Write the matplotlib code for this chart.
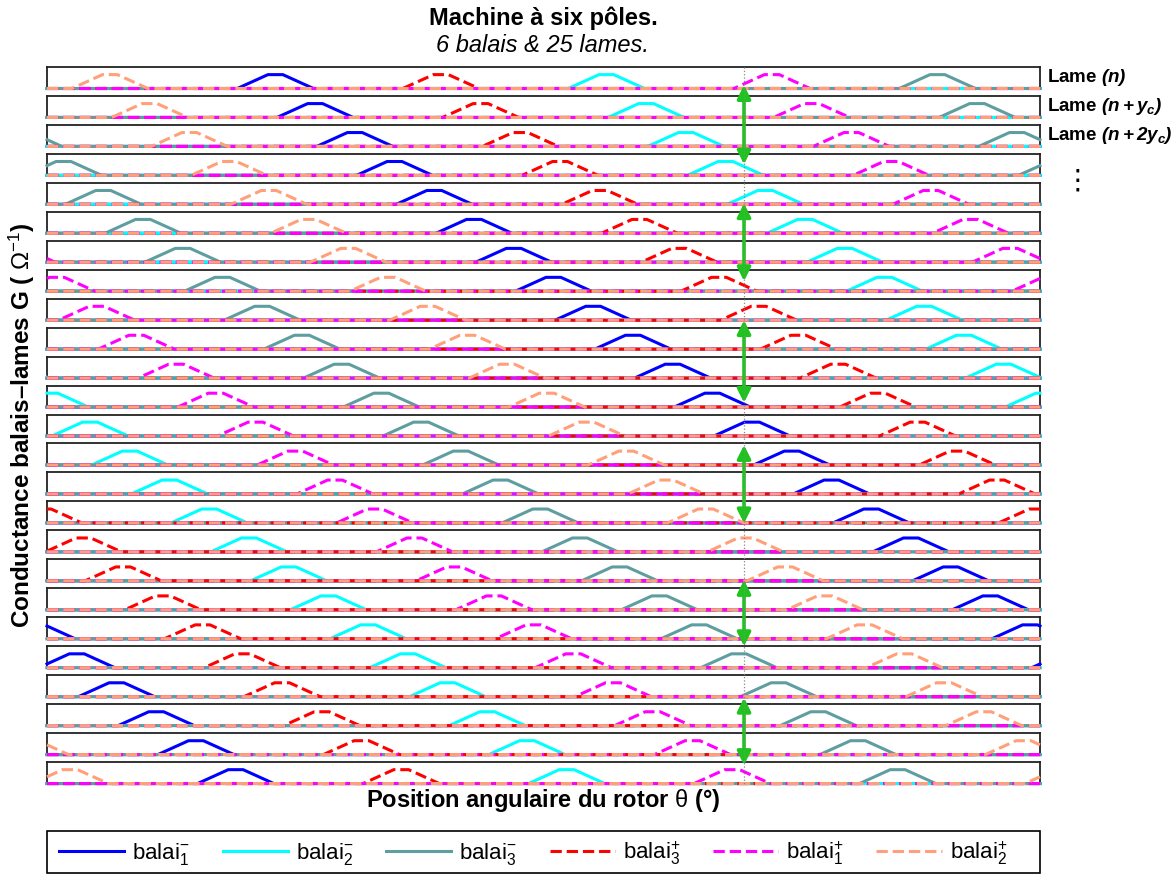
import numpy as np
import matplotlib
matplotlib.use('Agg')
import matplotlib.pyplot as plt
from matplotlib.patches import FancyArrowPatch, Rectangle
from matplotlib.lines import Line2D

plt.rcParams['font.family'] = ['Liberation Sans', 'DejaVu Sans']
plt.rcParams['mathtext.fontset'] = 'custom'
plt.rcParams['mathtext.rm'] = 'Liberation Sans'
plt.rcParams['mathtext.it'] = 'Liberation Sans:italic'
plt.rcParams['mathtext.bf'] = 'Liberation Sans:bold:italic'

# brushes, in legend order
brush_labels = [r'balai$_1^{-}$', r'balai$_2^{-}$', r'balai$_3^{-}$',
                r'balai$_3^{+}$', r'balai$_1^{+}$', r'balai$_2^{+}$']
brush_colors = ['#0000ff', '#00ffff', '#5f9ea0', '#ff0000', '#ff00ff', '#ffa07a']
brush_styles = ['-', '-', '-', '--', '--', '--']
# brush centre (deg) seen by the first lame
brush_center0 = [82.8, 202.8, 322.8, 142.8, 262.8, 22.8]

n_lames = 25
lame_step = 360.0 / n_lames          # shift from one row to the next
# trapezoidal conductance: offsets from centre (deg) and G value
trap_dx = [-13.8, -2.7, 2.7, 13.8]
trap_g = [0.0, 1.0, 1.0, 0.0]

theta_mark = 252.7
# green arrows: (row from, y frac, row to, y frac)
arrows = [(0, 0.16, 3, 0.51), (4, 0.05, 7, 0.47), (8, 0.0, 11, 0.2),
          (13, 0.93, 15, -0.02), (17, 0.04, 20, 1.0), (21, -0.05, 24, 0.86)]

row_labels = [r'Lame $\mathbf{(n)}$', r'Lame $\mathbf{(n+y_c)}$', r'Lame $\mathbf{(n+2y_c)}$']

W, H = 1172, 875
fig = plt.figure(figsize=(W / 100, H / 100), dpi=100)

left, right = 47, 1040
top0, pitch, hgt = 67, 28.96, 21.5
theta = np.linspace(0, 360, 3601)

axes = []
for k in range(n_lames):
    y_top = top0 + k * pitch
    ax = fig.add_axes([left / W, 1 - (y_top + hgt) / H, (right - left) / W, hgt / H])
    for lab, col, ls, c0 in zip(brush_labels, brush_colors, brush_styles, brush_center0):
        c = c0 + k * lame_step
        g = np.interp(theta, [c + d for d in trap_dx], trap_g, period=360)
        ax.plot(theta, g, color=col, ls=ls, lw=2.2, label=lab, clip_on=False, zorder=3)
    ax.set_xlim(0, 360)
    ax.set_ylim(0, 1.55)
    ax.set_xticks([])
    ax.set_yticks([])
    for s in ax.spines.values():
        s.set_linewidth(1.3)
        s.set_color('#222222')
        s.set_zorder(1)
    axes.append(ax)

for k, t in enumerate(row_labels):
    axes[k].text(1.007, 0.5, t, transform=axes[k].transAxes, fontsize=13.5,
                 fontweight='bold', va='center', ha='left')
axes[3].text(1.038, -0.25, '\u22ee', transform=axes[3].transAxes, fontsize=20,
             va='center', ha='center', family=['DejaVu Sans'])

# dotted line at theta
to_fig = fig.transFigure.inverted()
pa = to_fig.transform(axes[0].get_xaxis_transform().transform((theta_mark, 1.0)))
pb = to_fig.transform(axes[-1].get_xaxis_transform().transform((theta_mark, 0.0)))
fig.add_artist(Line2D([pa[0], pb[0]], [pa[1], pb[1]], transform=fig.transFigure,
                      color='#888888', ls=':', lw=0.9))

for r1, f1, r2, f2 in arrows:
    p1 = to_fig.transform(axes[r1].get_xaxis_transform().transform((theta_mark, f1)))
    p2 = to_fig.transform(axes[r2].get_xaxis_transform().transform((theta_mark, f2)))
    fig.add_artist(FancyArrowPatch(p1, p2, transform=fig.transFigure,
                                   arrowstyle='<|-|>', mutation_scale=20,
                                   color='#1ec31e', lw=2.6, shrinkA=0, shrinkB=0))

fig.text(543 / W, 1 - 18 / H, 'Machine à six pôles.', fontsize=17,
         fontweight='bold', ha='center', va='center')
fig.text(543 / W, 1 - 46 / H, '6 balais & 25 lames.', fontsize=17,
         style='italic', ha='center', va='center')
fig.text(543 / W, 1 - 801 / H, r'Position angulaire du rotor $\mathrm{\theta}$ (°)',
         fontsize=17, fontweight='bold', ha='center', va='center')
fig.text(22 / W, 1 - 425 / H, r'Conductance balais–lames G ( $\Omega^{-1}$)',
         fontsize=17.5, fontweight='bold', ha='center', va='center', rotation=90)

# legend box spans the plot width
fig.add_artist(Rectangle((left / W, 2 / H), (right - left) / W, 42 / H,
                         transform=fig.transFigure, fill=False,
                         edgecolor='black', lw=1.2))
handles, labels = axes[0].get_legend_handles_labels()
fig.legend(handles, labels, ncol=6, loc='center left',
           bbox_to_anchor=(59 / W, 1 - 853 / H), fontsize=16, frameon=False,
           handlelength=2.93, handletextpad=0.36, borderaxespad=0,
           borderpad=0, columnspacing=1.48)

fig.savefig('out.png', dpi=100, facecolor='white')
